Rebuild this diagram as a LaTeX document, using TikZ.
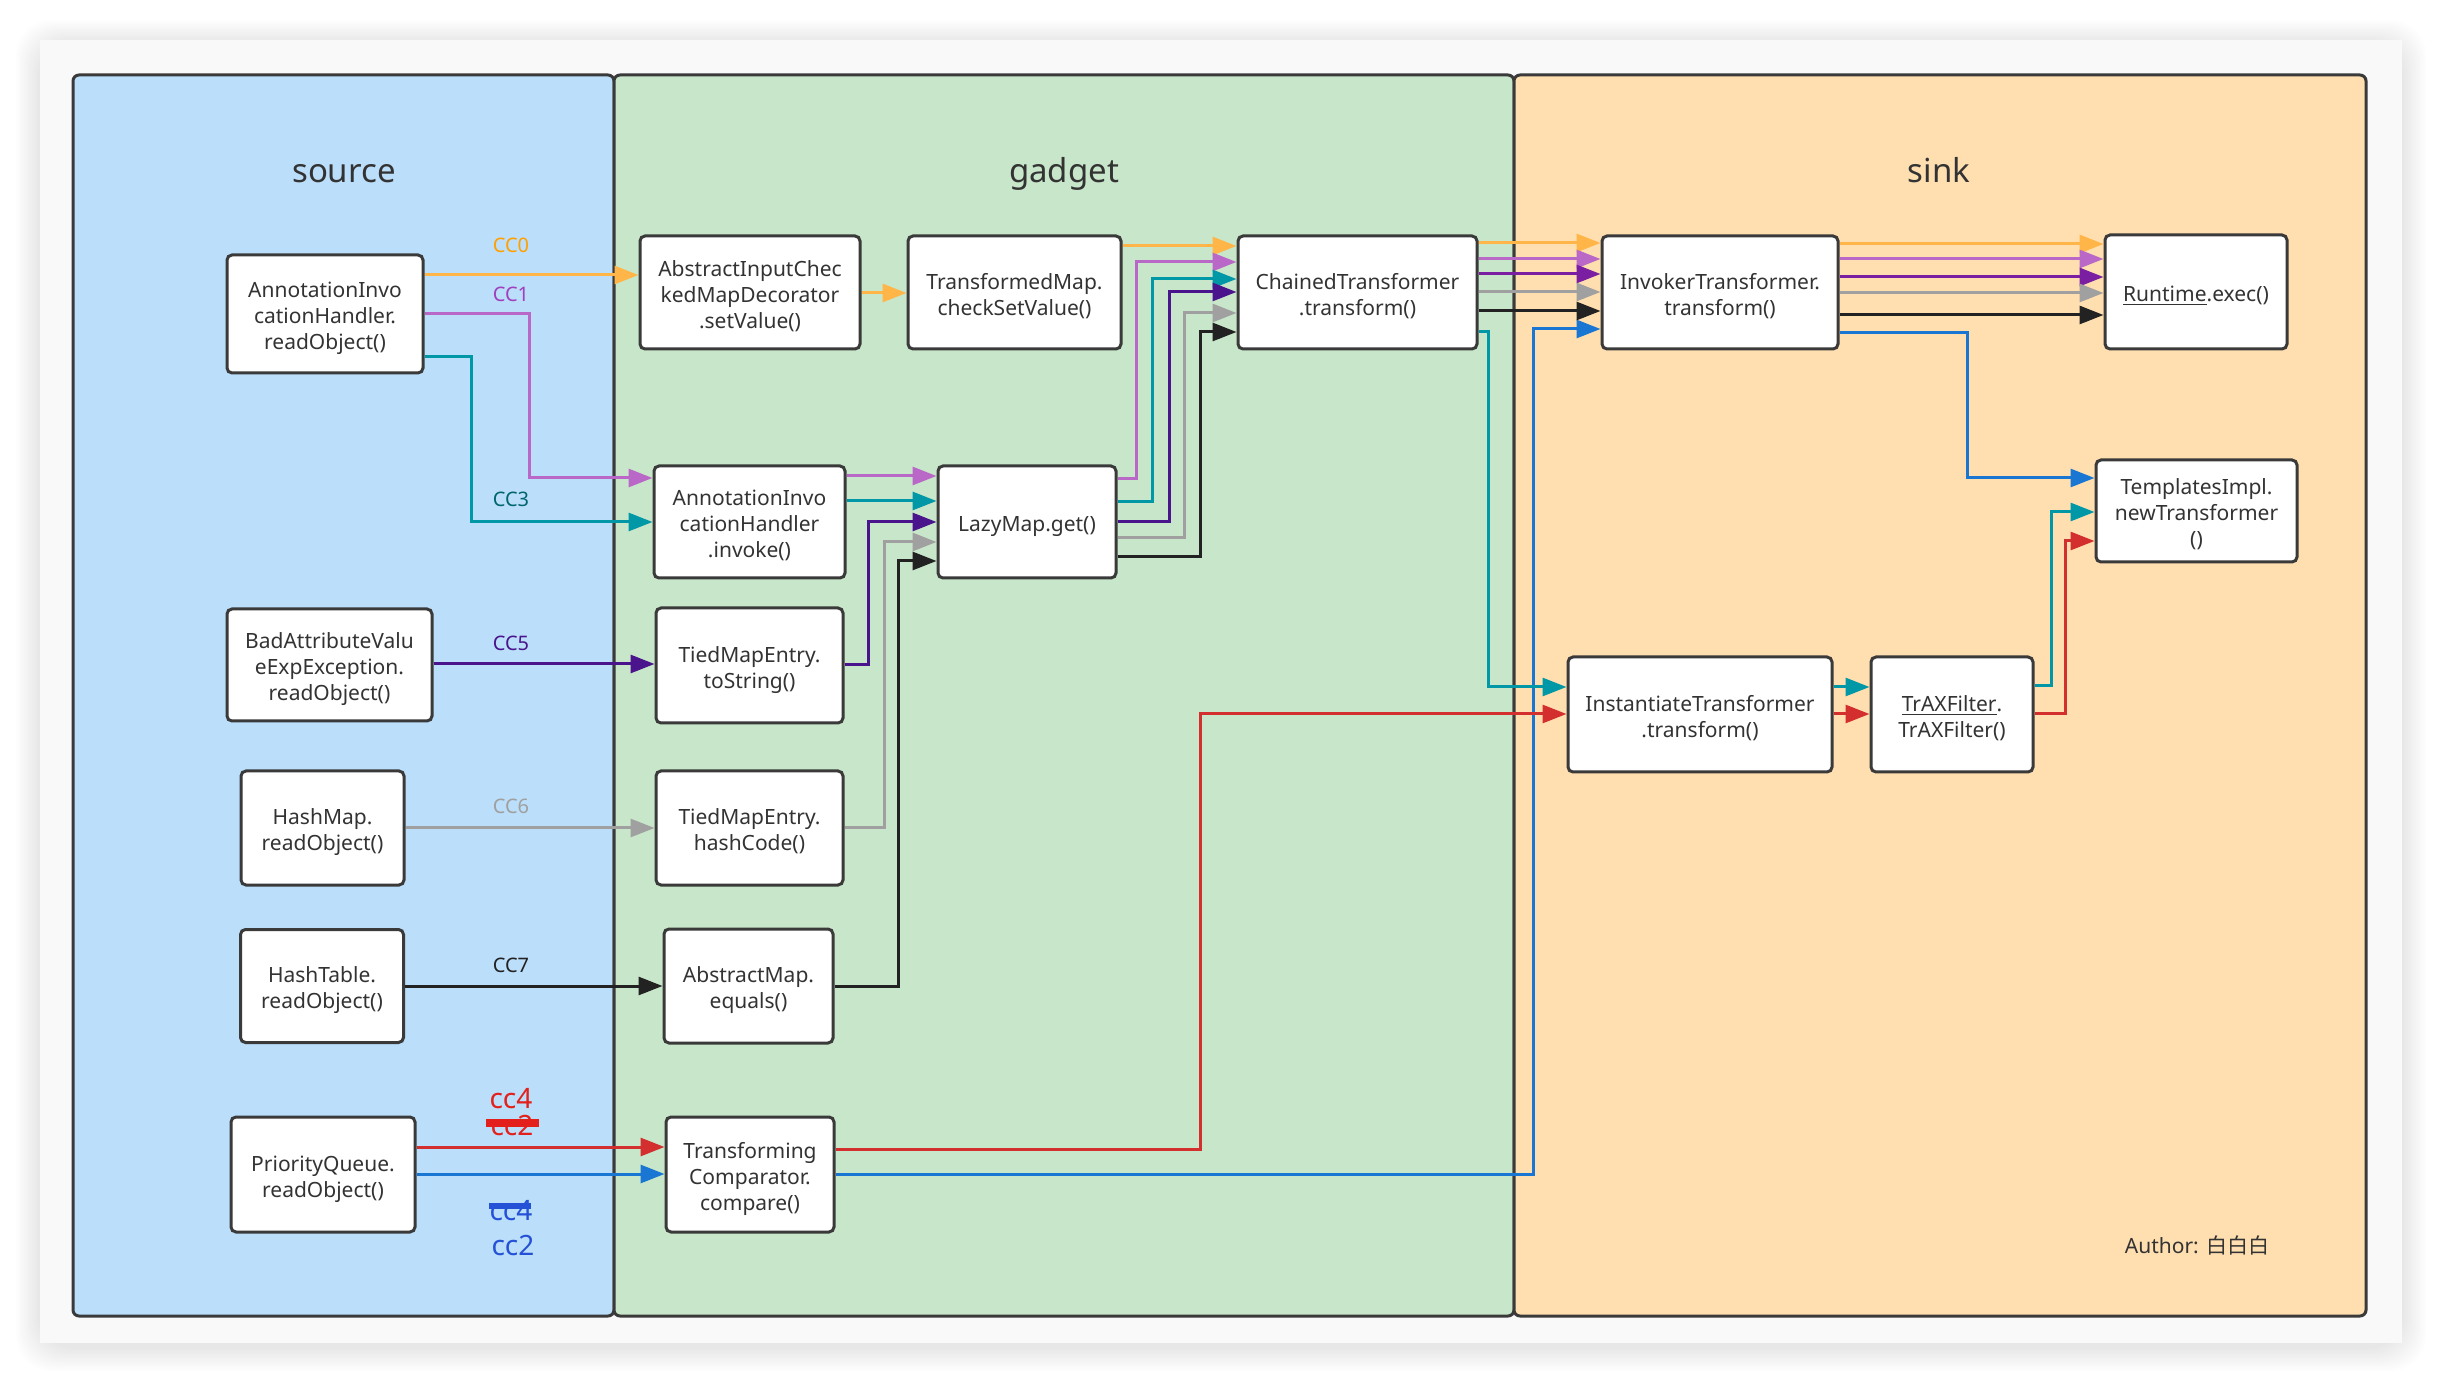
\documentclass[tikz,border=0pt]{standalone}
\usepackage{fontspec}
\setmainfont{Noto Sans}
\newfontfamily\cjkfont{Noto Sans CJK SC}
\usetikzlibrary{arrows.meta}
\definecolor{srcbg}{HTML}{BBDEFA}
\definecolor{gadbg}{HTML}{C8E6C9}
\definecolor{sinkbg}{HTML}{FFDFB0}
\definecolor{cardbg}{HTML}{F9F9F9}
\definecolor{boxline}{HTML}{3A3A3A}
\definecolor{txt}{HTML}{333333}
\definecolor{corange}{HTML}{FFB547}
\definecolor{lorange}{HTML}{FFA000}
\definecolor{cpurple}{HTML}{BA68C8}
\definecolor{lpurple}{HTML}{A040BC}
\definecolor{cteal}{HTML}{0097A7}
\definecolor{lteal}{HTML}{00666E}
\definecolor{cindigo}{HTML}{4A148C}
\definecolor{cviolet}{HTML}{7B1FA2}
\definecolor{cgray}{HTML}{A0A0A0}
\definecolor{cblack}{HTML}{222222}
\definecolor{cred}{HTML}{D32F2F}
\definecolor{lred}{HTML}{E3201B}
\definecolor{cblue}{HTML}{1976D2}
\definecolor{lblue}{HTML}{2451D6}
\newcommand{\bxt}[1]{\raisebox{-2.3pt}[\height][\depth]{\begin{tabular}{@{}c@{}}#1\end{tabular}}}
\pgfdeclarelayer{bg}
\pgfdeclarelayer{lines}
\pgfsetlayers{bg,lines,main}
\begin{document}
\begin{tikzpicture}[x=0.5pt,y=-0.5pt,
  box/.style={draw=boxline,line width=1.5pt,fill=white,rounded corners=2.5pt,text=txt,font=\fontsize{10.5}{13}\selectfont,inner sep=0pt},
  panel/.style={draw=boxline,line width=1.5pt,rounded corners=3pt},
  title/.style={text=txt,font=\fontsize{16.5}{20}\selectfont,anchor=base,inner sep=0pt},
  lbl/.style={font=\fontsize{10}{12}\selectfont,anchor=base,inner sep=0pt},
  big/.style={font=\fontsize{14}{16}\selectfont,anchor=base,inner sep=0pt},
  link/.style={line width=1.5pt,-{Triangle[length=12pt,width=9pt]}},
  l0/.style={link,draw=corange},
  l1/.style={link,draw=cpurple},
  l3/.style={link,draw=cteal},
  l5/.style={link,draw=cindigo},
  lv/.style={link,draw=cviolet},
  l6/.style={link,draw=cgray},
  l7/.style={link,draw=cblack},
  l4/.style={link,draw=cred},
  l2/.style={link,draw=cblue}
]
\useasboundingbox (0,0) rectangle (2442,1384);
\begin{pgfonlayer}{bg}
\fill[white] (0,0) rectangle (2442,1384);
\foreach \d in {2,4,...,24} \fill[black,opacity=0.006,rounded corners=18pt] (40-\d,44-\d) rectangle (2402+\d,1347+\d);
\fill[cardbg] (40,40) rectangle (2402,1343);
\draw[panel,fill=srcbg] (73,75) rectangle (614,1316);
\draw[panel,fill=gadbg] (614,75) rectangle (1514,1316);
\draw[panel,fill=sinkbg] (1514,75) rectangle (2366,1316);
\end{pgfonlayer}

\node[title] (tsrc) at (344,183) {source};
\node[title] (tgad) at (1064,183) {gadget};
\node[title] (tsink) at (1939,183) {sink};

\node[box,minimum width=98pt,minimum height=59pt] (aihr) at (325,314) {\bxt{AnnotationInvo\\cationHandler.\\readObject()}};
\node[box,minimum width=102.5pt,minimum height=56pt] (bad) at (329.5,665) {\bxt{BadAttributeValu\\eExpException.\\readObject()}};
\node[box,minimum width=81.5pt,minimum height=57pt] (hashmap) at (322.5,828) {\bxt{HashMap.\\readObject()}};
\node[box,minimum width=81.5pt,minimum height=56.5pt] (hashtable) at (322,986) {\bxt{HashTable.\\readObject()}};
\node[box,minimum width=92pt,minimum height=57.5pt] (pq) at (323,1174.5) {\bxt{PriorityQueue.\\readObject()}};
\node[box,minimum width=110pt,minimum height=56.5pt] (aicmd) at (750,292.5) {\bxt{AbstractInputChec\\kedMapDecorator\\.setValue()}};
\node[box,minimum width=106.5pt,minimum height=56.5pt] (tm) at (1014.5,292.5) {\bxt{TransformedMap.\\checkSetValue()}};
\node[box,minimum width=119.5pt,minimum height=56.5pt] (chained) at (1357.5,292.5) {\bxt{ChainedTransformer\\.transform()}};
\node[box,minimum width=118pt,minimum height=56.5pt] (invoker) at (1720,292.5) {\bxt{InvokerTransformer.\\transform()}};
\node[box,minimum width=91pt,minimum height=57pt] (runtime) at (2196,292) {\bxt{\underline{Runtime}.exec()}};
\node[box,minimum width=95.5pt,minimum height=56pt] (inv) at (749.5,522) {\bxt{AnnotationInvo\\cationHandler\\.invoke()}};
\node[box,minimum width=89pt,minimum height=56pt] (lazy) at (1027,522) {\bxt{LazyMap.get()}};
\node[box,minimum width=100.5pt,minimum height=51pt] (templates) at (2196.5,511) {\bxt{TemplatesImpl.\\newTransformer\\()}};
\node[box,minimum width=93.5pt,minimum height=57.5pt] (tostring) at (749.5,665.5) {\bxt{TiedMapEntry.\\toString()}};
\node[box,minimum width=93.5pt,minimum height=57pt] (hashcode) at (749.5,828) {\bxt{TiedMapEntry.\\hashCode()}};
\node[box,minimum width=84.5pt,minimum height=57pt] (amap) at (748.5,986) {\bxt{AbstractMap.\\equals()}};
\node[box,minimum width=84pt,minimum height=57.5pt] (tc) at (750,1174.5) {\bxt{Transforming\\Comparator.\\compare()}};
\node[box,minimum width=132pt,minimum height=57.5pt] (inst) at (1700,714.5) {\bxt{InstantiateTransformer\\.transform()}};
\node[box,minimum width=81pt,minimum height=57.5pt] (trax) at (1952,714.5) {\bxt{\underline{TrAXFilter}.\\TrAXFilter()}};

\begin{pgfonlayer}{lines}
% CC2 (blue) first
\draw[l2] (pq.east |- 0,1174) -- (tc.west |- 0,1174);
\draw[l2] (tc.east |- 0,1174) -| (1533,329) -- (invoker.west |- 0,329);
\draw[l2] (invoker.east |- 0,333) -| (1967,478) -- (templates.west |- 0,478);
% CC0
\draw[l0] (aihr.east |- 0,275) -- (aicmd.west |- 0,275);
\draw[l0] (aicmd.east |- 0,293) -- (tm.west |- 0,293);
\draw[l0] (tm.east |- 0,246) -- (chained.west |- 0,246);
\draw[l0] (chained.east |- 0,243) -- (invoker.west |- 0,243);
\draw[l0] (invoker.east |- 0,244) -- (runtime.west |- 0,244);
% CC1
\draw[l1] (aihr.east |- 0,314) -| (529,478) -- (inv.west |- 0,478);
\draw[l1] (inv.east |- 0,476) -- (lazy.west |- 0,476);
\draw[l1] (lazy.east |- 0,479) -| (1136,262) -- (chained.west |- 0,262);
\draw[l1] (chained.east |- 0,259) -- (invoker.west |- 0,259);
\draw[l1] (invoker.east |- 0,259) -- (runtime.west |- 0,259);
% CC3
\draw[l3] (aihr.east |- 0,357) -| (471,522) -- (inv.west |- 0,522);
\draw[l3] (inv.east |- 0,501) -- (lazy.west |- 0,501);
\draw[l3] (lazy.east |- 0,502) -| (1152,279) -- (chained.west |- 0,279);
\draw[l3] (chained.east |- 0,332) -| (1488,687) -- (inst.west |- 0,687);
\draw[l3] (inst.east |- 0,687) -- (trax.west |- 0,687);
\draw[l3] (trax.east |- 0,686) -| (2051,512) -- (templates.west |- 0,512);
% CC5
\draw[l5] (bad.east |- 0,664) -- (tostring.west |- 0,664);
\draw[l5] (tostring.east |- 0,665) -| (868,522) -- (lazy.west |- 0,522);
\draw[l5] (lazy.east |- 0,522) -| (1169,292) -- (chained.west |- 0,292);
\draw[lv] (chained.east |- 0,274) -- (invoker.west |- 0,274);
\draw[lv] (invoker.east |- 0,277) -- (runtime.west |- 0,277);
% CC6
\draw[l6] (hashmap.east |- 0,828) -- (hashcode.west |- 0,828);
\draw[l6] (hashcode.east |- 0,828) -| (884,542) -- (lazy.west |- 0,542);
\draw[l6] (lazy.east |- 0,538) -| (1184,313) -- (chained.west |- 0,313);
\draw[l6] (chained.east |- 0,292) -- (invoker.west |- 0,292);
\draw[l6] (invoker.east |- 0,293) -- (runtime.west |- 0,293);
% CC7
\draw[l7] (hashtable.east |- 0,986) -- (amap.west |- 0,986);
\draw[l7] (amap.east |- 0,986) -| (898,561) -- (lazy.west |- 0,561);
\draw[l7] (lazy.east |- 0,557) -| (1200,332) -- (chained.west |- 0,332);
\draw[l7] (chained.east |- 0,311) -- (invoker.west |- 0,311);
\draw[l7] (invoker.east |- 0,315) -- (runtime.west |- 0,315);
% CC4
\draw[l4] (pq.east |- 0,1147) -- (tc.west |- 0,1147);
\draw[l4] (tc.east |- 0,1149) -| (1200,714) -- (inst.west |- 0,714);
\draw[l4] (inst.east |- 0,714) -- (trax.west |- 0,714);
\draw[l4] (trax.east |- 0,714) -| (2065,541) -- (templates.west |- 0,541);
\end{pgfonlayer}

\node[lbl,text=lorange] (lcc0) at (511,253) {CC0};
\node[lbl,text=lpurple] (lcc1) at (511,302) {CC1};
\node[lbl,text=lteal] (lcc3) at (511,507) {CC3};
\node[lbl,text=cindigo] (lcc5) at (511,651) {CC5};
\node[lbl,text=cgray] (lcc6) at (511,813) {CC6};
\node[lbl,text=cblack] (lcc7) at (511,972) {CC7};
\node[big,text=lred] (lcc4a) at (511,1108) {cc4};
\node[big,text=lred] (lcc2s) at (512,1135) {cc2};
\fill[lred] (486,1119) rectangle (539,1127);
\node[big,text=lblue] (lcc4s) at (511,1220) {cc4};
\fill[lblue] (489,1203) rectangle (531,1209);
\node[big,text=lblue] (lcc2a) at (513,1255) {cc2};

\node[anchor=base,inner sep=0pt,text=txt,font=\fontsize{10.5}{13}\selectfont] (author) at (2197,1253) {Author: {\cjkfont 白白白}};
\end{tikzpicture}
\end{document}
